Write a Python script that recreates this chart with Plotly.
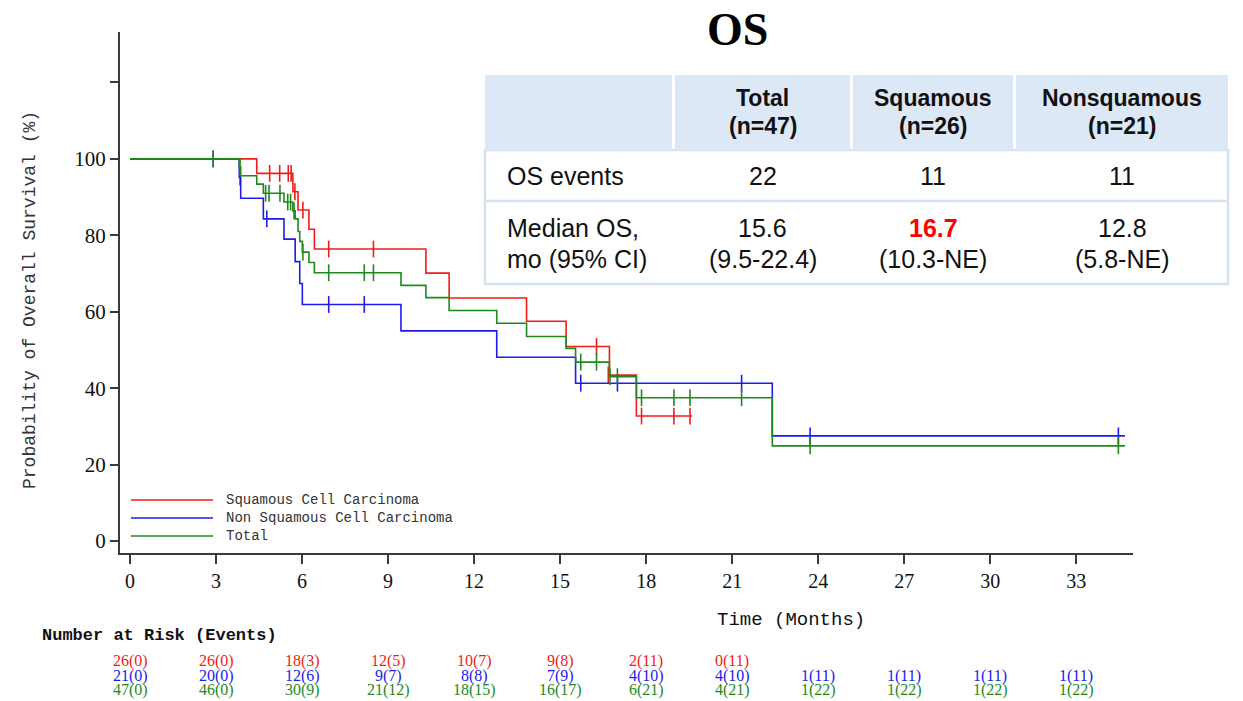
import plotly.graph_objects as go

# ---------------- data ----------------
# Kaplan-Meier step points (time in months, survival %)
sq_t = [0, 4.42, 5.68, 5.86, 6.24, 6.43, 10.32, 11.13, 13.83, 15.21, 16.72, 17.66]
sq_s = [100, 96.2, 91.4, 86.6, 81.6, 76.4, 70.1, 63.6, 57.5, 50.9, 43.4, 32.7]
sq_end = 19.6
sq_cens_t = [4.87, 5.22, 5.52, 5.62, 5.75, 6.03, 6.93, 8.49, 16.27, 16.68, 17.84, 18.97, 19.53]
sq_cens_s = [96.2, 96.2, 96.2, 96.2, 91.4, 86.6, 76.4, 76.4, 50.9, 43.4, 32.7, 32.7, 32.7]

ns_t = [0, 3.81, 3.86, 4.65, 5.37, 5.76, 5.92, 6.01, 9.45, 12.79, 15.54, 22.4]
ns_s = [100, 95.2, 89.7, 84.3, 79.0, 73.1, 67.4, 61.9, 55.0, 48.1, 41.3, 27.5]
ns_end = 34.7
ns_cens_t = [2.9, 3.84, 4.77, 6.93, 8.17, 15.72, 17.0, 21.33, 23.72, 34.47]
ns_cens_s = [100, 95.2, 84.3, 61.9, 61.9, 41.3, 41.3, 41.3, 27.5, 27.5]

tot_t = [0, 3.81, 3.86, 4.42, 4.65, 5.37, 5.68, 5.76, 5.86, 5.92, 6.01, 6.24, 6.43,
         9.45, 10.32, 11.13, 12.79, 13.83, 15.21, 15.54, 16.72, 17.66, 22.4]
tot_s = [100, 97.9, 95.6, 93.4, 91.0, 88.7, 86.4, 84.3, 81.0, 78.4, 75.6, 72.9, 70.2,
         66.9, 63.7, 60.3, 57.0, 53.5, 50.4, 46.8, 43.0, 37.5, 24.9]
tot_end = 34.7
tot_cens_t = [2.9, 3.84, 4.73, 4.85, 5.23, 5.5, 5.6, 5.72, 6.03, 6.93, 8.17, 8.49,
              15.72, 16.27, 16.74, 17.0, 17.84, 18.97, 19.53, 21.33, 23.72, 34.47]
tot_cens_s = [100, 97.9, 91.0, 91.0, 91.0, 88.7, 88.7, 86.4, 75.6, 70.2, 70.2, 70.2,
              46.8, 46.8, 43.0, 43.0, 37.5, 37.5, 37.5, 37.5, 24.9, 24.9]

# Number at risk (events) at each 3-month tick
risk_times = [0, 3, 6, 9, 12, 15, 18, 21, 24, 27, 30, 33]
risk_sq = ["26(0)", "26(0)", "18(3)", "12(5)", "10(7)", "9(8)", "2(11)", "0(11)"]
risk_ns = ["21(0)", "20(0)", "12(6)", "9(7)", "8(8)", "7(9)", "4(10)", "4(10)",
           "1(11)", "1(11)", "1(11)", "1(11)"]
risk_tot = ["47(0)", "46(0)", "30(9)", "21(12)", "18(15)", "16(17)", "6(21)", "4(21)",
            "1(22)", "1(22)", "1(22)", "1(22)"]

legend_names = ["Squamous Cell Carcinoma", "Non Squamous Cell Carcinoma", "Total"]

# summary table
tbl_header = [["", ""], ["Total", "(n=47)"], ["Squamous", "(n=26)"], ["Nonsquamous", "(n=21)"]]
tbl_row1 = ["OS events", "22", "11", "11"]
tbl_row2 = [["Median OS,", "mo (95% CI)"], ["15.6", "(9.5-22.4)"],
            ["16.7", "(10.3-NE)"], ["12.8", "(5.8-NE)"]]

# ---------------- styling ----------------
RED = "#f01c1c"
BLUE = "#1c1cf0"
GREEN = "#1e8a1e"
AX = "#3a3a3a"

OFF = 8  # page body margin offset
W, H = 1243 - OFF, 701 - OFF
ML, MT = 120 - OFF, 32 - OFF
MR = W - (1133 - OFF)
MB = H - (553 - OFF)
PW, PH = W - ML - MR, H - MT - MB


def PX(px):
    return (px - OFF - ML) / PW


def PY(py):
    return (H - MB - (py - OFF)) / PH


fig = go.Figure()

groups = [
    (sq_t, sq_s, sq_end, sq_cens_t, sq_cens_s, RED, legend_names[0]),
    (ns_t, ns_s, ns_end, ns_cens_t, ns_cens_s, BLUE, legend_names[1]),
    (tot_t, tot_s, tot_end, tot_cens_t, tot_cens_s, GREEN, legend_names[2]),
]
for t, s, end, ct, cs, col, name in groups:
    fig.add_trace(go.Scatter(x=t + [end], y=s + [s[-1]], mode="lines",
                             line=dict(color=col, width=1.6, shape="hv"),
                             name=name, showlegend=False, hoverinfo="skip"))
    fig.add_trace(go.Scatter(x=ct, y=cs, mode="markers",
                             marker=dict(symbol="line-ns", size=12,
                                         line=dict(color=col, width=1.6)),
                             showlegend=False, hoverinfo="skip"))

fig.update_xaxes(range=[-0.349, 34.98], tickvals=list(range(0, 34, 3)),
                 showline=True, linecolor=AX, linewidth=2, ticks="outside",
                 tickcolor=AX, tickwidth=2, ticklen=9, showgrid=False, zeroline=False,
                 tickfont=dict(family="Liberation Serif", size=20, color="#111"))
fig.update_yaxes(range=[-3.14, 133.2], tickvals=[0, 20, 40, 60, 80, 100, 120],
                 ticktext=["0", "20", "40", "60", "80", "100", ""],
                 showline=True, linecolor=AX, linewidth=2, ticks="outside",
                 tickcolor=AX, tickwidth=2, ticklen=8, showgrid=False, zeroline=False,
                 tickfont=dict(family="Liberation Serif", size=21, color="#111"))

shapes = []
ann = []

# y axis title
ann.append(dict(xref="paper", yref="paper", x=PX(30), y=PY(300), textangle=-90,
                text="Probability of Overall Survival (%)", showarrow=False,
                xanchor="center", yanchor="middle",
                font=dict(family="Liberation Mono", size=18, color="#333")))

# legend
leg_y = [500, 518, 536]
for name, col, y in zip(legend_names, [RED, BLUE, GREEN], leg_y):
    shapes.append(dict(type="line", xref="paper", yref="paper", x0=PX(131), x1=PX(213),
                       y0=PY(y), y1=PY(y), line=dict(color=col, width=1.6)))
    ann.append(dict(xref="paper", yref="paper", x=PX(224), y=PY(y), text=name,
                    showarrow=False, xanchor="left", yanchor="middle",
                    font=dict(family="Liberation Mono", size=14, color="#333")))

# title
ann.append(dict(xref="paper", yref="paper", x=PX(737), y=PY(29), text="<b>OS</b>",
                showarrow=False, xanchor="center", yanchor="middle",
                font=dict(family="Liberation Serif", size=46, color="#000")))

# x axis title
ann.append(dict(xref="paper", yref="paper", x=PX(791), y=PY(620), text="Time (Months)",
                showarrow=False, xanchor="center", yanchor="middle",
                font=dict(family="Liberation Mono", size=19, color="#111")))

# number at risk
ann.append(dict(xref="paper", yref="paper", x=PX(40), y=PY(635),
                text="<b>Number at Risk (Events)</b>", showarrow=False,
                xanchor="left", yanchor="middle",
                font=dict(family="Liberation Mono", size=17, color="#111")))
for labels, col, y in [(risk_sq, RED, 661), (risk_ns, BLUE, 676), (risk_tot, GREEN, 690)]:
    for tt, lab in zip(risk_times, labels):
        ann.append(dict(xref="x", yref="paper", x=tt, y=PY(y), text=lab,
                        showarrow=False, xanchor="center", yanchor="middle",
                        font=dict(family="Liberation Serif", size=16, color=col)))

# summary table
HDR = "#dce8f5"
BRD = "#d3e1f2"
cols = [(485, 672), (675, 850), (853, 1013), (1016, 1228)]
shapes.append(dict(type="rect", xref="paper", yref="paper", x0=PX(485), x1=PX(1228),
                   y0=PY(284), y1=PY(150), fillcolor="white",
                   line=dict(color=BRD, width=2.5), layer="above"))
shapes.append(dict(type="line", xref="paper", yref="paper", x0=PX(485), x1=PX(1228),
                   y0=PY(201), y1=PY(201), line=dict(color=BRD, width=2.5), layer="above"))
for (a, b) in cols:
    shapes.append(dict(type="rect", xref="paper", yref="paper", x0=PX(a), x1=PX(b),
                       y0=PY(150), y1=PY(75), fillcolor=HDR, line=dict(width=0),
                       layer="above"))

TF = "Liberation Sans"
for i, (a, b) in enumerate(cols):
    cx = (a + b) / 2
    if i > 0:
        for txt, y in zip(tbl_header[i], [98, 126]):
            ann.append(dict(xref="paper", yref="paper", x=PX(cx), y=PY(y),
                            text="<b>%s</b>" % txt, showarrow=False,
                            xanchor="center", yanchor="middle",
                            font=dict(family=TF, size=23, color="#111")))
        ann.append(dict(xref="paper", yref="paper", x=PX(cx), y=PY(176), text=tbl_row1[i],
                        showarrow=False, xanchor="center", yanchor="middle",
                        font=dict(family=TF, size=25, color="#111")))
        for j, (txt, y) in enumerate(zip(tbl_row2[i], [228, 259])):
            if i == 2 and j == 0:
                t_txt, fcol = "<b>%s</b>" % txt, "#ff0000"
            else:
                t_txt, fcol = txt, "#111"
            ann.append(dict(xref="paper", yref="paper", x=PX(cx), y=PY(y), text=t_txt,
                            showarrow=False, xanchor="center", yanchor="middle",
                            font=dict(family=TF, size=25, color=fcol)))
    else:
        ann.append(dict(xref="paper", yref="paper", x=PX(505), y=PY(176), text=tbl_row1[0],
                        showarrow=False, xanchor="left", yanchor="middle",
                        font=dict(family=TF, size=25, color="#111")))
        for txt, y in zip(tbl_row2[0], [228, 259]):
            ann.append(dict(xref="paper", yref="paper", x=PX(505), y=PY(y), text=txt,
                            showarrow=False, xanchor="left", yanchor="middle",
                            font=dict(family=TF, size=25, color="#111")))

fig.update_layout(width=W, height=H, margin=dict(l=ML, r=MR, t=MT, b=MB),
                  plot_bgcolor="white", paper_bgcolor="white",
                  shapes=shapes, annotations=ann, showlegend=False)

fig.write_html("out.html")
